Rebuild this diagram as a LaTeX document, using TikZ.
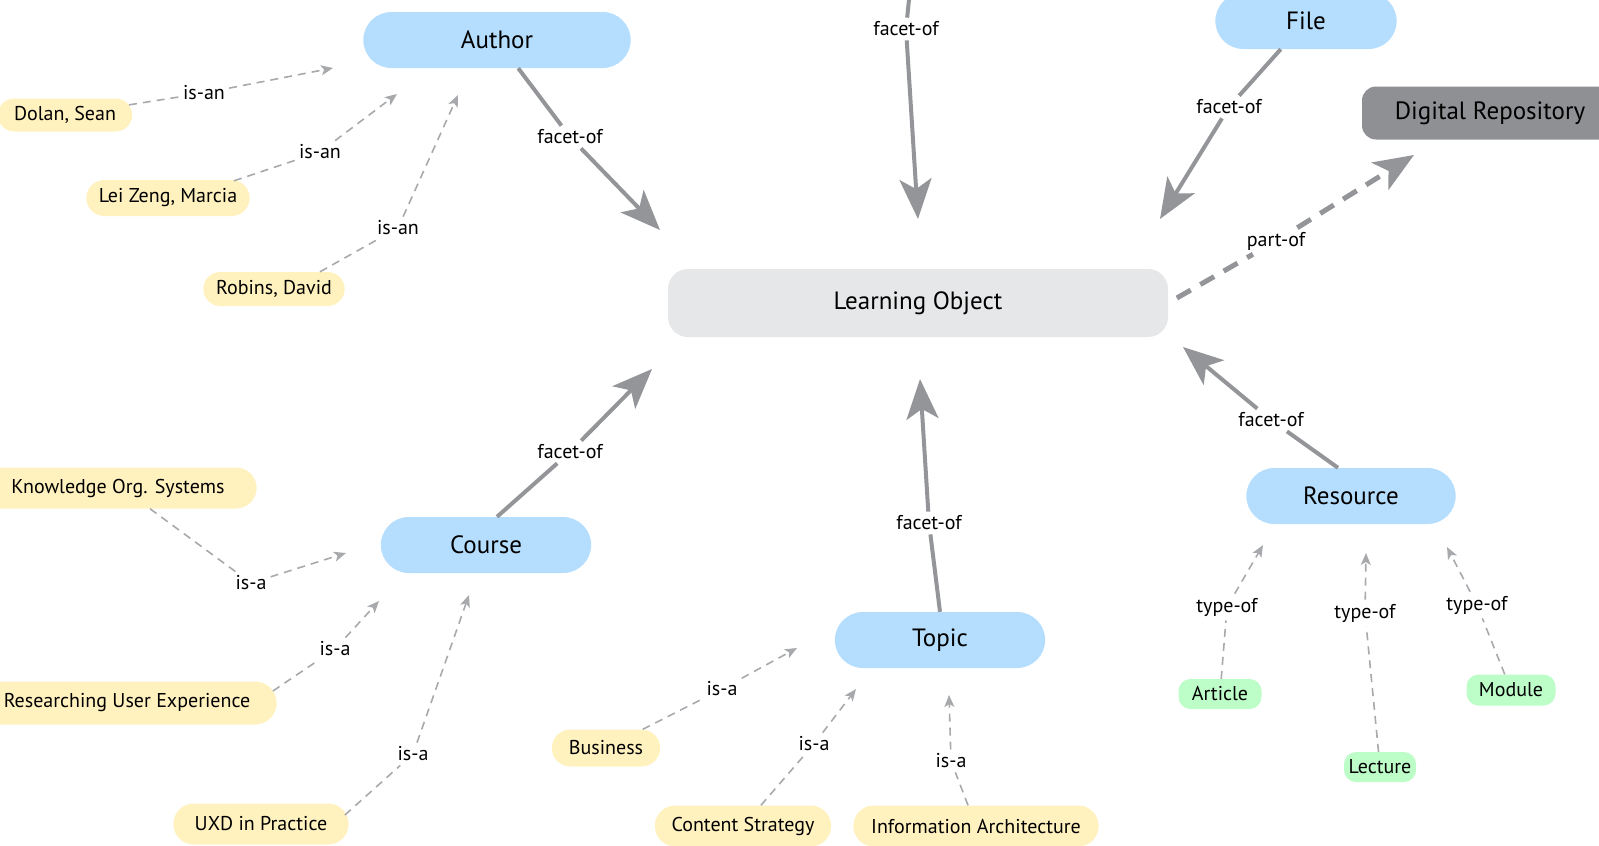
\documentclass[tikz,border=0pt]{standalone}
\usepackage{fontspec}
\setmainfont{PT Sans}
\usepackage{tikz}
\usetikzlibrary{arrows.meta,shapes.misc}

\definecolor{facetgray}{HTML}{939598}
\definecolor{linkgray}{HTML}{A7A9AC}
\definecolor{conceptblue}{HTML}{B5DEFE}
\definecolor{instyellow}{HTML}{FFF2BF}
\definecolor{typegreen}{HTML}{BCFDC8}
\definecolor{lofill}{HTML}{E6E7E8}
\definecolor{repofill}{HTML}{8F9093}

\tikzset{
  concept/.style={rounded rectangle, fill=conceptblue, minimum height=56pt, font=\fontsize{25}{30}\selectfont},
  instance/.style={rounded rectangle, fill=instyellow, minimum height=36pt, font=\fontsize{20}{24}\selectfont},
  kind/.style={fill=typegreen, rounded corners=12pt, minimum height=30pt, font=\fontsize{20}{24}\selectfont},
  link/.style={inner sep=4pt, font=\fontsize{20}{24}\selectfont},
  facet/.style={draw=facetgray, line width=4pt},
  facetarrow/.style={facet, -{Stealth[length=40pt,width=32pt,inset=10pt]}},
  isa/.style={draw=linkgray, line width=1.6pt, dash pattern=on 8pt off 6pt},
  isaarrow/.style={isa, -{Stealth[length=12pt,width=10pt,inset=3pt]}},
}

\begin{document}
\begin{tikzpicture}[x=1pt,y=-1pt]
    \clip (0,0) rectangle (1599,846);

    % concepts
    \node [fill=lofill, rounded corners=20pt, minimum width=500pt, minimum height=68pt, font=\fontsize{25}{30}\selectfont] (lo) at (918,303) {Learning Object};
    \node [fill=repofill, rounded corners=14pt, minimum width=256pt, minimum height=53pt, font=\fontsize{25}{30}\selectfont] (repo) at (1490,113) {Digital Repository};
    \node [concept, minimum width=274pt] (author) at (497,40) {Author};
    \node [concept, minimum width=188pt] (file) at (1306,21) {File};
    \node [concept, minimum width=217pt] (course) at (486,545) {Course};
    \node [concept, minimum width=217pt] (topic) at (940,640) {Topic};
    \node [concept, minimum width=216pt] (resource) at (1351,496) {Resource};
    \coordinate (above) at (911,-20);

    % instances
    \node [instance, minimum width=141pt, minimum height=33pt] (dolan) at (65,115) {Dolan, Sean};
    \node [instance, minimum width=170pt] (leizeng) at (168,198) {Lei Zeng, Marcia};
    \node [instance, minimum width=148pt, minimum height=34pt] (robins) at (274,289) {Robins, David};
    \node [instance, minimum width=284pt, minimum height=41pt] (kos) at (118,488) {Knowledge Org. Systems};
    \node [instance, minimum width=306pt, minimum height=43pt] (rux) at (127,703) {Researching User Experience};
    \node [instance, minimum width=182pt, minimum height=41pt] (uxd) at (261,824) {UXD in Practice};
    \node [instance, minimum width=115pt, minimum height=37pt] (business) at (606,748) {Business};
    \node [instance, minimum width=183pt, minimum height=41pt] (strategy) at (743,826) {Content Strategy};
    \node [instance, minimum width=252pt, minimum height=41pt] (infoarch) at (976,826) {Information Architecture};

    % resource types
    \node [kind, minimum width=83pt] (article) at (1220,694) {Article};
    \node [kind, minimum width=72pt] (lecture) at (1380,767) {Lecture};
    \node [kind, minimum width=89pt, minimum height=31pt] (module) at (1511,690) {Module};

    % linking phrases
    \node [link] (f-author) at (570,137) {facet-of};
    \node [link] (f-above) at (906,29) {facet-of};
    \node [link] (f-file) at (1229,107) {facet-of};
    \node [link] (p-repo) at (1276,241) {part-of};
    \node [link] (f-course) at (570,452) {facet-of};
    \node [link] (f-topic) at (929,523) {facet-of};
    \node [link] (f-resource) at (1271,420) {facet-of};
    \node [link] (a-dolan) at (204,93) {is-an};
    \node [link] (a-leizeng) at (320,152) {is-an};
    \node [link] (a-robins) at (398,228) {is-an};
    \node [link] (a-kos) at (251,583) {is-a};
    \node [link] (a-rux) at (335,649) {is-a};
    \node [link] (a-uxd) at (413,754) {is-a};
    \node [link] (a-business) at (722,689) {is-a};
    \node [link] (a-strategy) at (814,744) {is-a};
    \node [link] (a-infoarch) at (951,761) {is-a};
    \node [link] (t-article) at (1227,607) {type-of};
    \node [link] (t-lecture) at (1365,613) {type-of};
    \node [link] (t-module) at (1477,605) {type-of};

    % arrow ends
    \coordinate (lo-author) at (660,230);
    \coordinate (lo-above) at (918,219);
    \coordinate (lo-file) at (1160,219);
    \coordinate (repo-in) at (1414,155);
    \coordinate (lo-course) at (652,369);
    \coordinate (lo-topic) at (920,379);
    \coordinate (lo-resource) at (1183,347);
    \coordinate (author-1) at (333,68);
    \coordinate (author-2) at (397,94);
    \coordinate (author-3) at (458,95);
    \coordinate (course-1) at (346,553);
    \coordinate (course-2) at (379,601);
    \coordinate (course-3) at (469,595);
    \coordinate (topic-1) at (797,648);
    \coordinate (topic-2) at (856,689);
    \coordinate (topic-3) at (949,695);
    \coordinate (resource-1) at (1263,545);
    \coordinate (resource-2) at (1366,553);
    \coordinate (resource-3) at (1447,547);

    \draw [facet] (author) -- (f-author);
    \draw [facetarrow] (f-author) -- (lo-author);
    \draw [facet] (above) -- (f-above);
    \draw [facetarrow] (f-above) -- (lo-above);
    \draw [facet] (file) -- (f-file);
    \draw [facetarrow] (f-file) -- (lo-file);
    \draw [facet] ([xshift=11pt]course.north) -- (f-course);
    \draw [facetarrow] (f-course) -- (lo-course);
    \draw [facet] (topic.north) -- (f-topic);
    \draw [facetarrow] (f-topic) -- (lo-topic);
    \draw [facet] ([xshift=-13pt]resource.north) -- (f-resource);
    \draw [facetarrow] (f-resource) -- (lo-resource);
    \draw [facet, line width=5pt, dash pattern=on 16pt off 11pt, shorten <=10pt] (lo.east) -- (p-repo);
    \draw [facetarrow, line width=5pt, dash pattern=on 16pt off 11pt] (p-repo) -- (repo-in);

    \draw [isa] (dolan) -- (a-dolan);
    \draw [isaarrow] (a-dolan) -- (author-1);
    \draw [isa] ([xshift=66pt,yshift=-1pt]leizeng.north) -- (a-leizeng);
    \draw [isaarrow] (a-leizeng) -- (author-2);
    \draw [isa] ([xshift=46pt]robins.north) -- (a-robins);
    \draw [isaarrow] (a-robins) -- (author-3);
    \draw [isa] ([xshift=32pt]kos.south) -- (a-kos);
    \draw [isaarrow] (a-kos) -- (course-1);
    \draw [isa] ([xshift=-4pt,yshift=12pt]rux.east) -- (a-rux);
    \draw [isaarrow] (a-rux) -- (course-2);
    \draw [isa] ([xshift=-4pt,yshift=9pt]uxd.east) -- (a-uxd);
    \draw [isaarrow] (a-uxd) -- (course-3);
    \draw [isa] (business) -- (a-business);
    \draw [isaarrow] (a-business) -- (topic-1);
    \draw [isa] (strategy) -- (a-strategy);
    \draw [isaarrow] (a-strategy) -- (topic-2);
    \draw [isa] (infoarch) -- (a-infoarch);
    \draw [isaarrow] (a-infoarch) -- (topic-3);
    \draw [isa] (article) -- (t-article);
    \draw [isaarrow] (t-article) -- (resource-1);
    \draw [isa] (lecture) -- (t-lecture);
    \draw [isaarrow] (t-lecture) -- (resource-2);
    \draw [isa] (module) -- (t-module);
    \draw [isaarrow] (t-module) -- (resource-3);

\end{tikzpicture}
\end{document}
